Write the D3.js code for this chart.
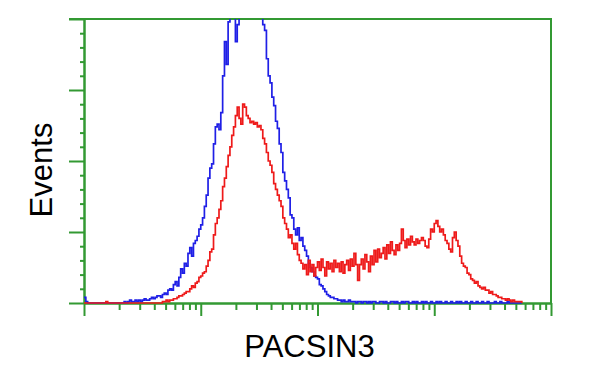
<!DOCTYPE html>
<html>
<body>
    <style>
        body, html {
            margin: 0;
            padding: 0;
            background: #fff;
        }
        svg {
            display: block;
        }
    </style>

    <svg width="600" height="375"></svg>

    <script src="https://d3js.org/d3.v7.min.js"></script>

    <script>
        // histogram counts per channel (256 channels over 4 decades)
        var blueCounts = [
            4,1,0,0,0,0,0,0,0,0, 0,0,0,0,0,0,0,0,0,0,
            0,0,1,0,1,2,1,1,2,1, 2,1,2,3,2,2,3,4,3,4,
            5,5,4,6,7,6,9,10,9,13, 15,12,18,24,21,28,26,35,39,33,
            42,44,47,52,55,60,68,76,88,95, 98,112,124,126,122,134,160,184,168,198,
            215,225,205,184,196,220,225,238,230,242, 236,228,240,232,224,218,210,205,196,192,
            172,160,155,145,139,128,123,112,106,92, 86,80,74,62,60,52,48,53,44,46,
            40,37,33,28,25,22,19,18,17,13, 12,10,8,6,5,4,4,3,3,2,
            2,1,2,1,1,2,1,1,1,0, 1,
            1,0,1,1,0,1,0,1,1,0, 0,1,1,0,1,0,0,1,1,0,
            1,0,0,1,0,1,1,0,0,1, 0,1,0,0,1,0,1,0,0,1,
            0,0,1,0,1,0,0,1,0,0, 1,0,0,1,0,1,0,0,1,0,
            0,1,0,0,1,0,0,1,0,0, 1,0,0,0,1,0,0,1,0,0,
            0,1,0,0, 0,0,0,0,0,0
        ];

        var redCounts = [
            0,0,0,0,0,0,0,0,0,0, 0,0,1,0,0,0,0,0,0,0,
            0,0,0,0,0,0,0,0,0,0, 0,0,0,0,0,0,0,0,0,0,
            0,0,0,
            1,1,2,1,2,2,3,3,4,5,
            5,6,7,8,8,10,12,11,14,15,
            18,19,21,22,26,30,36,38,48,56,
            60,66,72,82,88,96,104,110,118,124,
            132,138,130,126,140,138,132,130,127,128,
            126,127,124,125,122,116,112,106,100,97,
            92,84,80,76,72,68,60,56,52,46,
            48,42,38,42,34,30,28,24,27,20,
            30,22,27,19,25,29,23,31,25,19,
            29,24,28,22,30,25,28,22,29,21,
            27,30,23,31,26,35,27,16,27,31,
            24,34,29,22,33,27,37,29,38,32,
            35,39,31,41,35,43,37,34,41,37,
            42,52,44,39,45,41,47,43,41,45,
            42,44,46,44,40,39,45,52,50,56,
            58,54,50,52,48,44,42,38,36,46,
            50,44,40,33,28,26,25,21,20,17,
            16,14,15,12,11,10,11,9,9,7,
            8,6,6,5,4,4,3,3,2,3,
            2,1,2,1,1,1,1,0
        ];

        var yMajorTicks = [0, 50, 100, 150, 200];
        var xMajorTicks = [1, 10, 100, 1000, 10000];
        var xLabel = "PACSIN3";
        var yLabel = "Events";

        var plotLeft = 84, plotRight = 551, plotTop = 19, plotBottom = 303;
        var frameColor = "#339933";
        var blueColor = "#1f1fe6";
        var redColor = "#ee1a1a";

        var svg = d3.select("svg");

        var xChan = d3.scaleLinear().domain([0, 256]).range([plotLeft, plotRight]);
        var xLog = d3.scaleLog().domain([1, 10000]).range([plotLeft, plotRight]);
        var y = d3.scaleLinear().domain([0, 200]).range([plotBottom, plotTop]);

        var xMinor = [];
        xMajorTicks.slice(0, -1).forEach(function (d) {
            for (var k = 2; k < 10; k++) xMinor.push(d * k);
        });
        var yMinor = d3.range(0, 201, 10).filter(function (d) { return d % 50 !== 0; });

        function styleAxis(g) {
            g.selectAll("path, line").attr("stroke", frameColor).attr("stroke-width", 2);
            g.selectAll("text").remove();
        }

        // Y AXIS
        svg.append("g").attr("transform", "translate(" + plotLeft + ",0)")
            .call(d3.axisLeft(y).tickValues(yMinor).tickSize(4).tickSizeOuter(0).tickFormat(""))
            .call(styleAxis);
        svg.append("g").attr("transform", "translate(" + plotLeft + ",0)")
            .call(d3.axisLeft(y).tickValues(yMajorTicks).tickSize(15).tickSizeOuter(0).tickFormat(""))
            .call(styleAxis);

        // X AXIS
        svg.append("g").attr("transform", "translate(0," + plotBottom + ")")
            .call(d3.axisBottom(xLog).tickValues(xMinor).tickSize(7).tickSizeOuter(0).tickFormat(""))
            .call(styleAxis);
        svg.append("g").attr("transform", "translate(0," + plotBottom + ")")
            .call(d3.axisBottom(xLog).tickValues(xMajorTicks).tickSize(13).tickSizeOuter(0).tickFormat(""))
            .call(styleAxis);

        // FRAME top + right
        svg.append("path")
            .attr("d", "M" + (plotLeft - 15) + "," + plotTop + "H" + plotRight + "V" + plotBottom)
            .attr("fill", "none")
            .attr("stroke", frameColor)
            .attr("stroke-width", 2);

        svg.append("clipPath").attr("id", "plot")
            .append("rect")
            .attr("x", plotLeft).attr("y", plotTop)
            .attr("width", plotRight - plotLeft).attr("height", plotBottom - plotTop + 1);

        var line = d3.line()
            .x(function (d, i) { return xChan(i); })
            .y(function (d) { return y(d); })
            .curve(d3.curveStepAfter);

        svg.append("path")
            .datum(blueCounts)
            .attr("clip-path", "url(#plot)")
            .attr("d", line)
            .attr("fill", "none")
            .attr("stroke", blueColor)
            .attr("stroke-width", 1.7);

        svg.append("path")
            .datum(redCounts)
            .attr("clip-path", "url(#plot)")
            .attr("d", line)
            .attr("fill", "none")
            .attr("stroke", redColor)
            .attr("stroke-width", 1.7);

        // LABELS
        svg.append("text")
            .attr("x", (plotLeft + plotRight) / 2 - 8)
            .attr("y", 357)
            .attr("text-anchor", "middle")
            .attr("font-family", "Liberation Sans, Arial, sans-serif")
            .attr("font-size", 31)
            .attr("fill", "#000")
            .text(xLabel);

        svg.append("text")
            .attr("transform", "translate(52,170) rotate(-90)")
            .attr("text-anchor", "middle")
            .attr("font-family", "Liberation Sans, Arial, sans-serif")
            .attr("font-size", 31)
            .attr("fill", "#000")
            .text(yLabel);
    </script>
</body>
</html>
